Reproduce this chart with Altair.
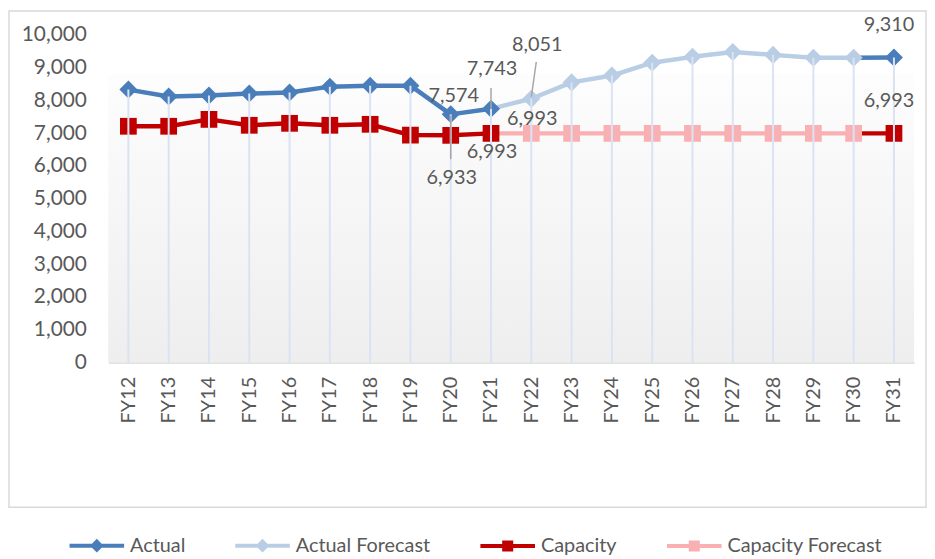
import altair as alt
import pandas as pd

# ---------------- data ----------------
categories = ["FY12", "FY13", "FY14", "FY15", "FY16", "FY17", "FY18", "FY19", "FY20", "FY21",
              "FY22", "FY23", "FY24", "FY25", "FY26", "FY27", "FY28", "FY29", "FY30", "FY31"]

actual = [8330, 8120, 8150, 8210, 8240, 8420, 8450, 8450, 7574, 7743,
          None, None, None, None, None, None, None, None, None, 9310]
actual_forecast = [None, None, None, None, None, None, None, None, None, None,
                   8051, 8550, 8760, 9150, 9330, 9480, 9390, 9300, 9300, None]
capacity = [7210, 7210, 7420, 7240, 7300, 7240, 7270, 6940, 6933, 6993,
            None, None, None, None, None, None, None, None, None, 6993]
capacity_forecast = [None, None, None, None, None, None, None, None, None, None,
                     6993, 6993, 6993, 6993, 6993, 6993, 6993, 6993, 6993, None]

y_ticks = [0, 1000, 2000, 3000, 4000, 5000, 6000, 7000, 8000, 9000, 10000]

series_names = ["Actual", "Actual Forecast", "Capacity", "Capacity Forecast"]
series_values = {
    "Actual": actual,
    "Actual Forecast": actual_forecast,
    "Capacity": capacity,
    "Capacity Forecast": capacity_forecast,
}
partner = {
    "Actual": "Actual Forecast",
    "Actual Forecast": "Actual",
    "Capacity": "Capacity Forecast",
    "Capacity Forecast": "Capacity",
}

# ---------------- styles ----------------
colors = {
    "Actual": "#4a7ebb",
    "Actual Forecast": "#b9cde5",
    "Capacity": "#c00000",
    "Capacity Forecast": "#f8b0b3",
}
marker_shape = {
    "Actual": "diamond",
    "Actual Forecast": "diamond",
    "Capacity": "square",
    "Capacity Forecast": "square",
}
marker_size = {"diamond": 330, "square": 285}
FONT = "Lato"
TXT = "#595959"
W, H = 812, 330

# ---------------- tables ----------------
points = pd.DataFrame(
    [(c, s, v) for s in series_names for c, v in zip(categories, series_values[s]) if v is not None],
    columns=["category", "series", "value"],
)

# line segments: each run of a series joins back to the previous category (own or partner value)
seg_rows = []
for s in series_names:
    own = series_values[s]
    other = series_values[partner[s]]
    full = [o if o is not None else p for o, p in zip(own, other)]
    seg = 0
    i = 0
    while i < len(own):
        if own[i] is None:
            i += 1
            continue
        j = i
        while j + 1 < len(own) and own[j + 1] is not None:
            j += 1
        start = i - 1 if (i > 0 and full[i - 1] is not None) else i
        for k in range(start, j + 1):
            seg_rows.append((categories[k], s, full[k], f"{s}-{seg}"))
        seg += 1
        i = j + 1
lines = pd.DataFrame(seg_rows, columns=["category", "series", "value", "segment"])

drops = points.groupby("category", as_index=False)["value"].max()

legend_df = pd.DataFrame({"series": series_names, "value": [None] * len(series_names)})

xscale = alt.Scale(type="point", domain=categories, padding=0.5)
yscale = alt.Scale(domain=[0, 10000], nice=False)

X = alt.X("category:N", scale=xscale, sort=categories,
          axis=alt.Axis(title=None, labelAngle=-90, ticks=False, domainColor="#d9d9d9",
                        domainWidth=1.5, labelPadding=14, labelFont=FONT, labelFontSize=20,
                        labelColor=TXT, grid=False))
Y = alt.Y("value:Q", scale=yscale,
          axis=alt.Axis(title=None, values=y_ticks, format=",.0f", labelOverlap=False,
                        ticks=False, domain=False, grid=False, labelPadding=22,
                        labelFont=FONT, labelFontSize=21, labelColor=TXT))

layers = []

# plot-area gradient background
bg = alt.Chart(pd.DataFrame({"a": [0]})).mark_rect(
    fill=alt.LinearGradient(
        gradient="linear", x1=0, x2=0, y1=0, y2=1,
        stops=[alt.GradientStop(color="#fdfdfd", offset=0),
               alt.GradientStop(color="#eeeeee", offset=1)]),
).encode(x=alt.value(0), x2=alt.value(W), y=alt.value(40), y2=alt.value(H))
layers.append(bg)

# outer chart border
border = alt.Chart(pd.DataFrame({"a": [0]})).mark_rect(
    fill="transparent", stroke="#d9d9d9", strokeWidth=1.5
).encode(x=alt.value(-100), x2=alt.value(W + 12), y=alt.value(-24), y2=alt.value(H + 146))
layers.append(border)

# lines
for s in ["Capacity Forecast", "Capacity", "Actual Forecast", "Actual"]:
    layers.append(
        alt.Chart(lines).transform_filter(alt.datum.series == s)
        .mark_line(color=colors[s], strokeWidth=4.5, strokeJoin="round")
        .encode(x=X, y=Y, detail="segment:N", order="category:N")
    )

# markers
for s in ["Capacity Forecast", "Capacity", "Actual Forecast", "Actual"]:
    shp = marker_shape[s]
    layers.append(
        alt.Chart(points).transform_filter(alt.datum.series == s)
        .mark_point(shape=shp, size=marker_size[shp], filled=True, opacity=1,
                    color=colors[s])
        .encode(x=X, y=Y)
    )

# drop lines (drawn above markers)
layers.append(
    alt.Chart(drops).mark_rule(color="#dae3f3", strokeWidth=2)
    .encode(x=X, y=Y, y2=alt.datum(0))
)

# leader lines
def pick(s, c):
    return alt.Chart(points).transform_filter(
        (alt.datum.series == s) & (alt.datum.category == c))

layers.append(pick("Actual", "FY21").mark_rule(color="#a6a6a6", strokeWidth=1.5, y2Offset=-21)
              .encode(x=X, y=Y, y2="value:Q"))
layers.append(pick("Actual Forecast", "FY22").mark_rule(color="#a6a6a6", strokeWidth=1.5,
                                                        yOffset=-2, y2Offset=-37, x2Offset=5)
              .encode(x=X, x2="category:N", y=Y, y2="value:Q"))
layers.append(pick("Capacity", "FY20").mark_rule(color="#a6a6a6", strokeWidth=1.5,
                                                 yOffset=-20, y2Offset=24)
              .encode(x=X, y=Y, y2="value:Q"))

# data labels: (series, category, dx, dy)
label_specs = [
    ("Actual", "FY20", 3, -18),
    ("Actual", "FY21", 1, -40),
    ("Actual Forecast", "FY22", 6, -54),
    ("Actual", "FY31", -5, -33),
    ("Capacity", "FY20", 1, 43),
    ("Capacity", "FY21", 1, 19),
    ("Capacity Forecast", "FY22", 1, -14),
    ("Capacity", "FY31", -5, -33),
]
for s, c, dx, dy in label_specs:
    layers.append(
        pick(s, c).mark_text(font=FONT, fontSize=20, color=TXT, dx=dx, dy=dy,
                             baseline="middle", align="center")
        .encode(x=X, y=Y, text=alt.Text("value:Q", format=","))
    )

# legend-only layer
diamond_path = "M-1,0L1,0M0,-0.15L0.15,0L0,0.15L-0.15,0Z"
square_path = "M-1,0L1,0M-0.13,-0.13L0.13,-0.13L0.13,0.13L-0.13,0.13Z"
leg = alt.Legend(title=None, orient="none", direction="horizontal", legendX=-41, legendY=485)
legend_layer = alt.Chart(legend_df).mark_point(filled=False, strokeWidth=4, opacity=1).encode(
    y=Y,
    color=alt.Color("series:N",
                    scale=alt.Scale(domain=series_names, range=[colors[s] for s in series_names]),
                    legend=leg),
    shape=alt.Shape("series:N",
                    scale=alt.Scale(domain=series_names,
                                    range=[diamond_path, diamond_path, square_path, square_path]),
                    legend=leg),
)
layers.append(legend_layer)

chart = alt.layer(*layers).properties(
    width=W, height=H, padding={"left": 0, "top": 0, "right": 0, "bottom": 0}
).configure_view(stroke=None).configure_legend(
    labelFont=FONT, labelFontSize=20, labelColor=TXT, symbolSize=3025,
    symbolStrokeWidth=4, columnPadding=42, labelOffset=4,
)

chart.save("out.html", embed_options={"renderer": "svg", "actions": False})
